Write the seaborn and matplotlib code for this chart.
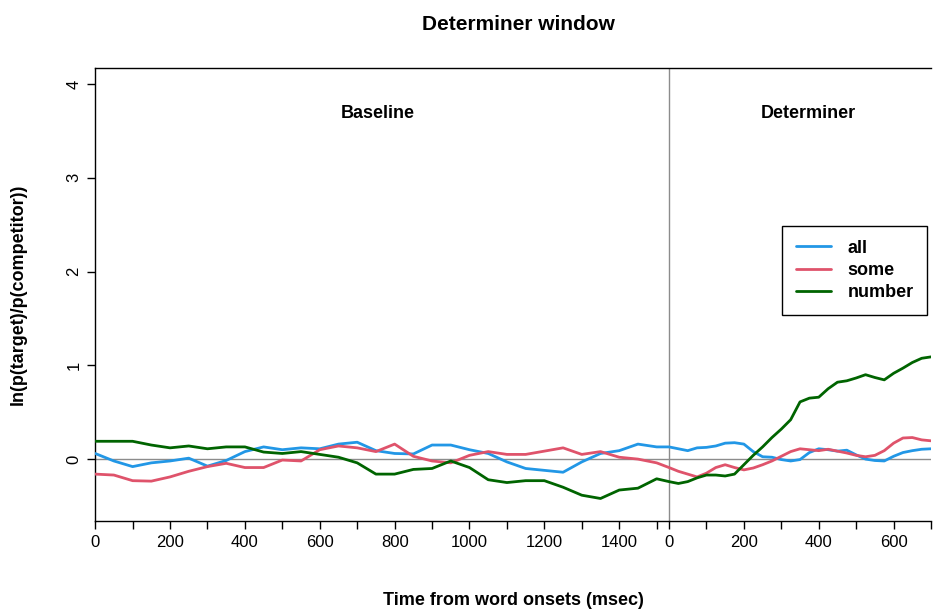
import numpy as np
import pandas as pd
import matplotlib
matplotlib.use("Agg")
import matplotlib.pyplot as plt
import seaborn as sns

# ---------------- data ----------------
words = ["all", "some", "number"]
word_colors = ["#2297E6", "#DF536B", "#006400"]

baseline_time = [0, 50, 100, 150, 200, 250, 300, 350, 400, 450, 500, 550, 600, 650,
                 700, 750, 800, 850, 900, 950, 1000, 1050, 1100, 1150, 1200, 1250,
                 1300, 1350, 1400, 1450, 1500]
baseline_all = [0.06, -0.02, -0.08, -0.04, -0.02, 0.01, -0.075, -0.015, 0.08, 0.13,
                0.10, 0.12, 0.11, 0.16, 0.18, 0.09, 0.06, 0.055, 0.15, 0.15, 0.10,
                0.06, -0.03, -0.10, -0.12, -0.14, -0.03, 0.06, 0.09, 0.16, 0.13]
baseline_some = [-0.16, -0.17, -0.23, -0.235, -0.19, -0.13, -0.08, -0.045, -0.09, -0.09,
                 -0.01, -0.02, 0.10, 0.14, 0.12, 0.08, 0.16, 0.03, -0.02, -0.04, 0.04,
                 0.08, 0.05, 0.05, 0.085, 0.12, 0.05, 0.08, 0.02, 0.0, -0.04]
baseline_number = [0.19, 0.19, 0.19, 0.15, 0.12, 0.14, 0.11, 0.13, 0.13, 0.075, 0.06,
                   0.08, 0.05, 0.02, -0.04, -0.16, -0.16, -0.11, -0.10, -0.02, -0.09,
                   -0.22, -0.25, -0.23, -0.23, -0.30, -0.385, -0.42, -0.33, -0.31, -0.21]

determiner_time = [0, 25, 50, 75, 100, 125, 150, 175, 200, 225, 250, 275, 300, 325,
                   350, 375, 400, 425, 450, 475, 500, 525, 550, 575, 600, 625, 650,
                   675, 700]
determiner_all = [0.13, 0.11, 0.09, 0.12, 0.125, 0.14, 0.17, 0.175, 0.16, 0.08, 0.025,
                  0.02, -0.005, -0.02, -0.005, 0.07, 0.11, 0.10, 0.085, 0.095, 0.045,
                  0.0, -0.015, -0.02, 0.03, 0.07, 0.09, 0.105, 0.11]
determiner_some = [-0.09, -0.13, -0.16, -0.19, -0.15, -0.09, -0.06, -0.09, -0.115,
                   -0.095, -0.06, -0.02, 0.03, 0.08, 0.11, 0.10, 0.09, 0.105, 0.085,
                   0.065, 0.04, 0.025, 0.04, 0.09, 0.17, 0.225, 0.23, 0.205, 0.195]
determiner_number = [-0.24, -0.26, -0.24, -0.20, -0.17, -0.17, -0.18, -0.16, -0.06,
                     0.04, 0.13, 0.23, 0.32, 0.42, 0.61, 0.65, 0.66, 0.75, 0.82, 0.835,
                     0.865, 0.90, 0.87, 0.845, 0.915, 0.97, 1.03, 1.075, 1.09]

baseline_length = 1533          # where the determiner window starts on the shared axis
baseline_ticks = list(range(0, 1501, 100))
baseline_ticklabels = [str(t) if t % 200 == 0 and t <= 1400 else "" for t in baseline_ticks]
determiner_ticks = list(range(0, 701, 100))
determiner_ticklabels = [str(t) if t % 200 == 0 else "" for t in determiner_ticks]
y_ticks = [0, 1, 2, 3, 4]

# ---------------- build long table ----------------
rows = []
for w, b, d in zip(words, [baseline_all, baseline_some, baseline_number],
                   [determiner_all, determiner_some, determiner_number]):
    for t, v in zip(baseline_time, b):
        rows.append({"pos": t, "value": v, "word": w})
    for t, v in zip(determiner_time, d):
        rows.append({"pos": baseline_length + t, "value": v, "word": w})
df = pd.DataFrame(rows)

# ---------------- plot ----------------
sns.set_style("white")
plt.rcParams["font.family"] = ["Liberation Sans", "DejaVu Sans"]
plt.rcParams["text.color"] = "black"
plt.rcParams["axes.labelcolor"] = "black"
plt.rcParams["xtick.color"] = "black"
plt.rcParams["ytick.color"] = "black"

fig = plt.figure(figsize=(9.33, 6.09), dpi=100)
ax = fig.add_axes([0.102, 0.1445, 0.8959, 0.7438])

ax.axhline(0, color="#8c8c8c", lw=1.0, zorder=1)
ax.axvline(baseline_length, color="#8c8c8c", lw=1.0, zorder=1)

sns.lineplot(data=df, x="pos", y="value", hue="word", hue_order=words,
             palette=dict(zip(words, word_colors)), estimator=None, sort=True,
             linewidth=2.0, ax=ax, legend=True, zorder=3)

ax.set_xlim(0, baseline_length + 700)
ax.set_ylim(-0.66, 4.17)

xt = baseline_ticks + [baseline_length + t for t in determiner_ticks]
xl = baseline_ticklabels + determiner_ticklabels
ax.set_xticks(xt)
ax.set_xticklabels(xl, fontsize=12, color="black")
ax.set_yticks(y_ticks)
ax.set_yticklabels([str(v) for v in y_ticks], fontsize=12, rotation=90, va="center",
                   color="black")
ax.tick_params(axis="both", direction="out", length=6, width=1, color="black",
               labelcolor="black", bottom=True, left=True, pad=4)

for side in ["left", "bottom", "top"]:
    ax.spines[side].set_visible(True)
    ax.spines[side].set_color("black")
    ax.spines[side].set_linewidth(1.0)
ax.spines["right"].set_visible(False)

ax.set_xlabel("Time from word onsets (msec)", fontsize=13, fontweight="bold", color="black")
ax.xaxis.set_label_coords(0.5, -0.157)
ax.set_ylabel("ln(p(target)/p(competitor))", fontsize=13, fontweight="bold", color="black")
ax.yaxis.set_label_coords(-0.082, 0.5)

ax.text(756, 3.69, "Baseline", ha="center", va="center", fontsize=13,
        fontweight="bold", color="black")
ax.text(baseline_length + 371, 3.69, "Determiner", ha="center", va="center",
        fontsize=13, fontweight="bold", color="black")

fig.text(518 / 933, 1 - 25 / 609, "Determiner window", ha="center", va="center",
         fontsize=15, fontweight="bold", color="black")

handles, labels = ax.get_legend_handles_labels()
leg = ax.legend(handles, labels, loc="upper left", bbox_to_anchor=(0.822, 0.651),
                frameon=True, fancybox=False, edgecolor="black", framealpha=1,
                prop={"size": 13, "weight": "bold"}, handlelength=1.95,
                handletextpad=0.9, labelspacing=0.3, borderpad=0.75, borderaxespad=0)
leg.get_frame().set_linewidth(1.0)
for t in leg.get_texts():
    t.set_color("black")

fig.savefig("out.png", dpi=100)
